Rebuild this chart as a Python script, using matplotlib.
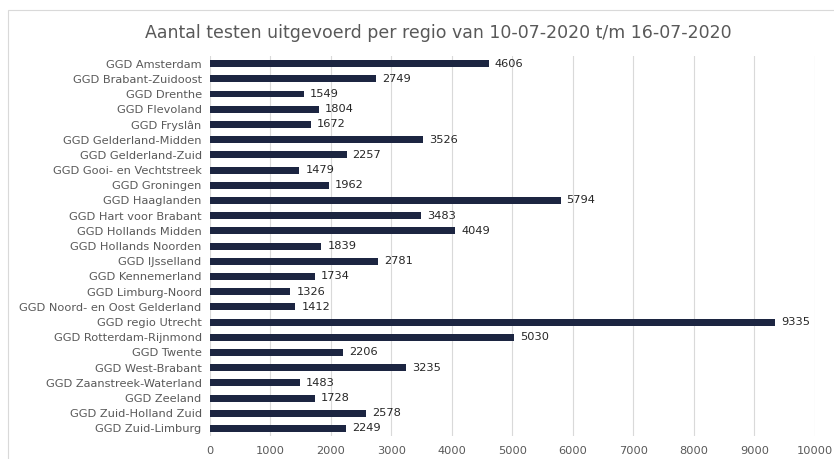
import matplotlib
matplotlib.use("Agg")
import matplotlib.pyplot as plt
from matplotlib.patches import Rectangle

# data
regios = ["GGD Amsterdam", "GGD Brabant-Zuidoost", "GGD Drenthe", "GGD Flevoland",
          "GGD Fryslân", "GGD Gelderland-Midden", "GGD Gelderland-Zuid",
          "GGD Gooi- en Vechtstreek", "GGD Groningen", "GGD Haaglanden",
          "GGD Hart voor Brabant", "GGD Hollands Midden", "GGD Hollands Noorden",
          "GGD IJsselland", "GGD Kennemerland", "GGD Limburg-Noord",
          "GGD Noord- en Oost Gelderland", "GGD regio Utrecht", "GGD Rotterdam-Rijnmond",
          "GGD Twente", "GGD West-Brabant", "GGD Zaanstreek-Waterland", "GGD Zeeland",
          "GGD Zuid-Holland Zuid", "GGD Zuid-Limburg"]
testen = [4606, 2749, 1549, 1804, 1672, 3526, 2257, 1479, 1962, 5794, 3483, 4049,
          1839, 2781, 1734, 1326, 1412, 9335, 5030, 2206, 3235, 1483, 1728, 2578, 2249]
xticks = [0, 1000, 2000, 3000, 4000, 5000, 6000, 7000, 8000, 9000, 10000]

txt = "#595959"
bar_col = "#1c2541"

fig = plt.figure(figsize=(8.34, 4.59), dpi=100)
fig.patches.append(Rectangle((8/834, -0.05), 1.0, 1 - 10/459 + 0.05, transform=fig.transFigure,
                             fill=False, edgecolor="#d9d9d9", linewidth=0.8))

ax = fig.add_axes([0.2518, 0.050, 0.7254, 0.828])
pos = list(range(len(regios)))
ax.barh(pos, testen, height=0.46, color=bar_col, zorder=3)
for p, v in zip(pos, testen):
    ax.text(v + 100, p, str(v), va="center", ha="left", fontsize=8.2, color="#262626")

ax.set_ylim(len(regios) - 0.5, -0.5)
ax.set_xlim(0, 10000)
ax.set_yticks(pos)
ax.set_yticklabels(regios, fontsize=8.2, color=txt)
ax.set_xticks(xticks)
ax.set_xticklabels([str(x) for x in xticks], fontsize=8.2, color=txt)
ax.tick_params(length=0, pad=6)
ax.tick_params(axis="x", pad=7)
ax.grid(axis="x", color="#d9d9d9", linewidth=0.8, zorder=0)
for s in ax.spines.values():
    s.set_visible(False)

fig.text(0.526, 0.928, "Aantal testen uitgevoerd per regio van 10-07-2020 t/m 16-07-2020",
         ha="center", va="center", fontsize=12.5, color=txt)

fig.savefig("out.png", dpi=100)
